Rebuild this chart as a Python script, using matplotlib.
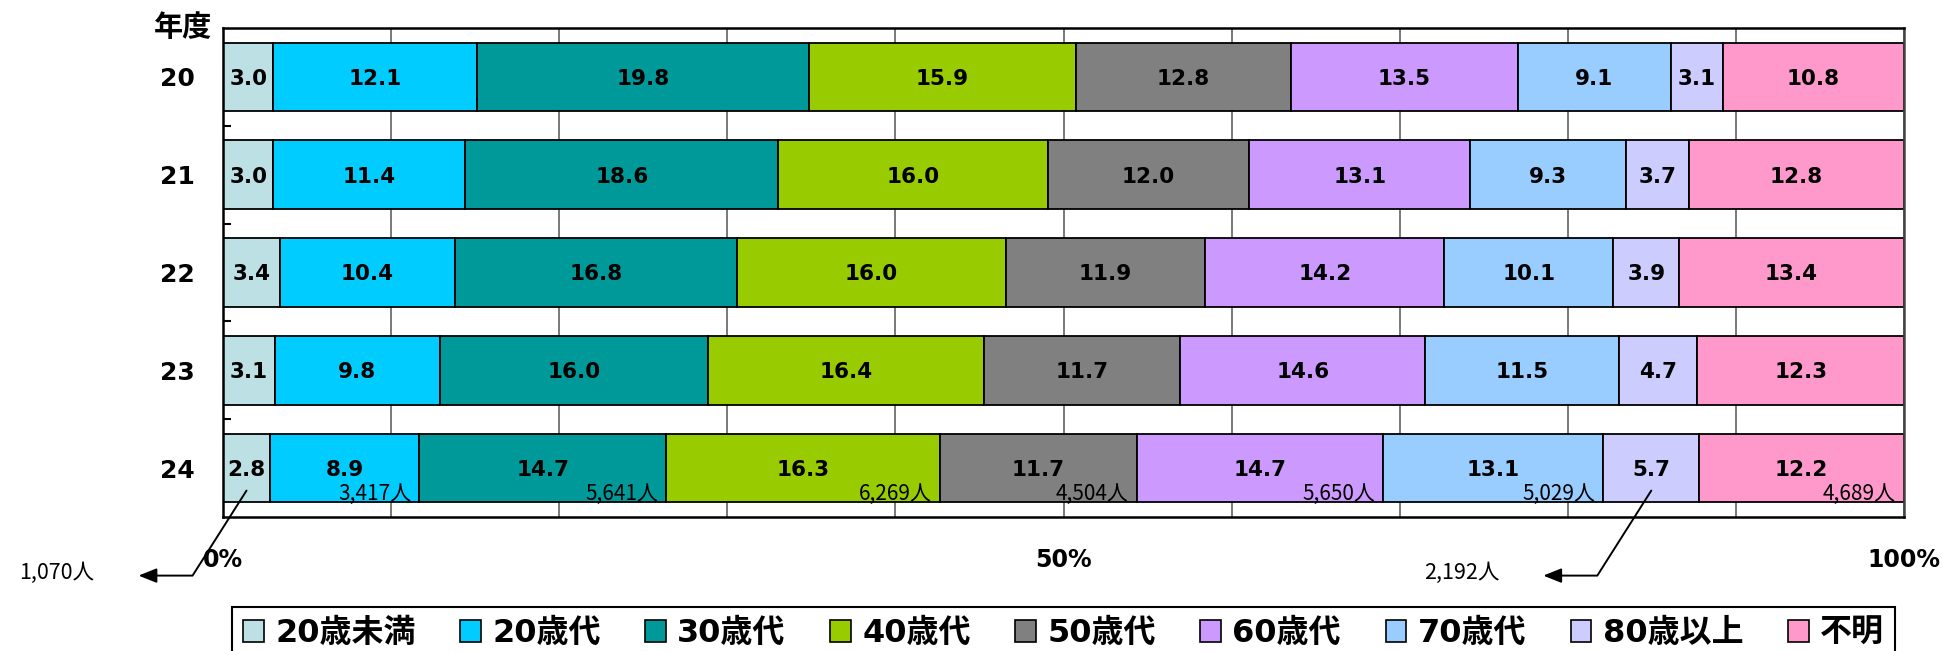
import numpy as np
import matplotlib
matplotlib.use("Agg")
import matplotlib.pyplot as plt
from matplotlib.patches import Patch
from matplotlib.font_manager import FontProperties

# ---- data -------------------------------------------------------------
years = ["20", "21", "22", "23", "24"]
age_groups = ["20歳未満", "20歳代", "30歳代", "40歳代", "50歳代",
              "60歳代", "70歳代", "80歳以上", "不明"]
colors = ["#BDE0E4", "#00CCFF", "#009999", "#99CC00", "#808080",
          "#CC99FF", "#99CCFF", "#CCCCFF", "#FF99CC"]

share_20 = [3.0, 12.1, 19.8, 15.9, 12.8, 13.5, 9.1, 3.1, 10.8]
share_21 = [3.0, 11.4, 18.6, 16.0, 12.0, 13.1, 9.3, 3.7, 12.8]
share_22 = [3.4, 10.4, 16.8, 16.0, 11.9, 14.2, 10.1, 3.9, 13.4]
share_23 = [3.1, 9.8, 16.0, 16.4, 11.7, 14.6, 11.5, 4.7, 12.3]
share_24 = [2.8, 8.9, 14.7, 16.3, 11.7, 14.7, 13.1, 5.7, 12.2]
persons_24 = [1070, 3417, 5641, 6269, 4504, 5650, 5029, 2192, 4689]
callout_groups = [0, 7]          # counts shown outside with an arrow

x_ticks = [0, 50, 100]
x_tick_labels = ["0%", "50%", "100%"]
grid_ticks = list(range(10, 100, 10))

# ---- styling ----------------------------------------------------------
NUM = ["DejaVu Sans", "Noto Sans CJK JP"]
CJK = ["Noto Sans CJK JP", "DejaVu Sans"]
plt.rcParams["font.family"] = NUM

W, H = 1942, 651
fig = plt.figure(figsize=(W / 100, H / 100), dpi=100)
ax = fig.add_axes([223 / W, 1 - 517 / H, (1904 - 223) / W, (517 - 28) / H])

values = np.array([share_20, share_21, share_22, share_23, share_24])
pct = values / values.sum(axis=1, keepdims=True) * 100
lefts = np.hstack([np.zeros((len(years), 1)), np.cumsum(pct, axis=1)[:, :-1]])
ypos = np.arange(len(years))
bar_h = 0.70

for j, name in enumerate(age_groups):
    ax.barh(ypos, pct[:, j], left=lefts[:, j], height=bar_h,
            color=colors[j], edgecolor="black", linewidth=1.3, zorder=3)
    for i in ypos:
        ax.text(lefts[i, j] + pct[i, j] / 2, i, f"{values[i, j]:.1f}",
                ha="center", va="center_baseline", fontsize=15.5,
                fontweight="bold", family=NUM, zorder=5)

# person counts for the latest year
last = len(years) - 1
bar_bottom = last + bar_h / 2
for j, n in enumerate(persons_24):
    if j in callout_groups:
        continue
    ax.annotate(f"{n:,}人", xy=(lefts[last, j] + pct[last, j], bar_bottom),
                xytext=(-8, 2), textcoords="offset pixels",
                ha="right", va="baseline", fontsize=15, family=CJK, zorder=6)

for j in callout_groups:
    cx = lefts[last, j] + pct[last, j] / 2
    start = (cx, last + 0.23)
    ax.annotate("", xy=start, xytext=(-108, -85), textcoords="offset pixels",
                arrowprops=dict(arrowstyle="<|-,head_length=0.55,head_width=0.22",
                                connectionstyle="angle,angleA=0,angleB=57.6,rad=0",
                                shrinkA=0, shrinkB=0, lw=1.4, color="black",
                                mutation_scale=20),
                annotation_clip=False, zorder=7)
    ax.annotate(f"{persons_24[j]:,}人", xy=start, xytext=(-108 - 44, -82),
                textcoords="offset pixels", ha="right", va="center",
                fontsize=15.5, family=CJK, annotation_clip=False)

# axes
ax.set_xlim(0, 100)
ax.set_ylim(len(years) - 0.5, -0.5)
ax.set_xticks(x_ticks, x_tick_labels)
ax.set_xticks(grid_ticks, minor=True)
ax.tick_params(axis="x", which="both", length=0, pad=22, labelsize=17)
ax.grid(axis="x", which="both", color="#6e6e6e", linewidth=1.3, zorder=0)
ax.set_axisbelow(True)

ax.set_yticks(ypos, years)
ax.set_yticks(ypos[:-1] + 0.5, minor=True)
ax.tick_params(axis="y", which="major", length=0, pad=20, labelsize=18)
ax.tick_params(axis="y", which="minor", direction="in", length=6, width=1.5,
               color="black")
for lbl in ax.get_xticklabels() + ax.get_yticklabels():
    lbl.set_fontweight("bold")

for side, sp in ax.spines.items():
    sp.set_color("black")
    sp.set_linewidth(1.8)
    sp.set_zorder(8)
ax.spines["right"].set_color("#444444")

fig.text(183 / W, 1 - 27 / H, "年度", ha="center", va="center",
         fontsize=21, fontweight="bold", family=CJK)

# legend
handles = [Patch(facecolor=c, edgecolor="black", linewidth=1.2) for c in colors]
leg = fig.legend(handles, age_groups, loc="upper left",
                 bbox_to_anchor=(232 / W, 0, (1895 - 232) / W, 1 - 607 / H),
                 mode="expand", ncol=len(age_groups),
                 prop=FontProperties(family=NUM, weight="bold", size=23),
                 handlelength=0.65, handleheight=0.65, handletextpad=0.35,
                 borderpad=0.35, borderaxespad=0, columnspacing=0.8,
                 frameon=True, fancybox=False, framealpha=1,
                 edgecolor="black")
leg.get_frame().set_linewidth(1.5)

fig.savefig("out.png", dpi=100)
